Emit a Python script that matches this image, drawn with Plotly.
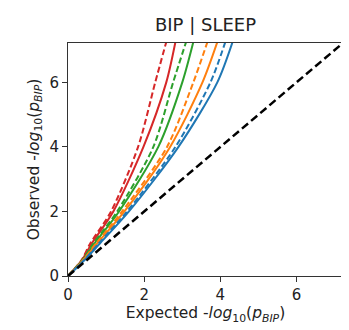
import plotly.graph_objects as go

observed = [0, 0.5, 1, 2, 4, 6, 7.25]

exp_red_dash = [0, 0.36, 0.58, 1.13, 1.84, 2.29, 2.58]
exp_red_solid = [0, 0.37, 0.62, 1.19, 1.98, 2.58, 2.82]
exp_green_dash = [0, 0.38, 0.66, 1.29, 2.24, 2.76, 3.10]
exp_green_solid = [0, 0.39, 0.69, 1.34, 2.37, 3.00, 3.29]
exp_orange_dash = [0, 0.40, 0.73, 1.42, 2.60, 3.29, 3.66]
exp_orange_solid = [0, 0.41, 0.76, 1.48, 2.68, 3.53, 3.92]
exp_blue_dash = [0, 0.43, 0.80, 1.55, 2.82, 3.74, 4.13]
exp_blue_solid = [0, 0.44, 0.83, 1.60, 2.90, 3.92, 4.32]

diag = [0, 7.3]
xticks = [0, 2, 4, 6]
yticks = [0, 2, 4, 6]

series = [
    (exp_red_dash, "#d62728", "6px,3px"),
    (exp_red_solid, "#d62728", "solid"),
    (exp_green_dash, "#2ca02c", "6px,3px"),
    (exp_green_solid, "#2ca02c", "solid"),
    (exp_orange_dash, "#ff7f0e", "6px,3px"),
    (exp_orange_solid, "#ff7f0e", "solid"),
    (exp_blue_dash, "#1f77b4", "6px,3px"),
    (exp_blue_solid, "#1f77b4", "solid"),
]

fig = go.Figure()
for xs, col, dash in series:
    fig.add_trace(go.Scatter(x=xs, y=observed, mode="lines",
                             line=dict(color=col, width=2, dash=dash, shape="spline", smoothing=0.8),
                             showlegend=False, hoverinfo="skip"))
fig.add_trace(go.Scatter(x=diag, y=diag, mode="lines",
                         line=dict(color="black", width=2.5, dash="8px,4px"),
                         showlegend=False, hoverinfo="skip"))

axis_common = dict(showline=True, linecolor="#333", linewidth=1, mirror=True,
                   ticks="outside", ticklen=5, tickcolor="#333", showgrid=False,
                   zeroline=False, automargin=False, tickfont=dict(size=15, color="#222"))
fig.update_layout(
    width=341, height=322,
    margin=dict(l=60, r=6, t=35, b=54),
    paper_bgcolor="white", plot_bgcolor="white",
    font=dict(family="DejaVu Sans", color="#222"),
    title=dict(text="BIP | SLEEP", x=0.5, xanchor="center", xref="paper",
               y=1 - 17 / 322, yref="container", yanchor="middle",
               font=dict(size=18, color="#222")),
    xaxis=dict(range=[0, 7.22], tickvals=xticks, **axis_common,
               title=dict(text="Expected -<i>log</i><sub>10</sub>(<i>p<sub>BIP</sub></i>)",
                          font=dict(size=15.5), standoff=4)),
    yaxis=dict(range=[0, 7.22], tickvals=yticks, **axis_common,
               title=dict(text="Observed -<i>log</i><sub>10</sub>(<i>p<sub>BIP</sub></i>)",
                          font=dict(size=15.5), standoff=6)),
)
fig.write_html("out.html")
